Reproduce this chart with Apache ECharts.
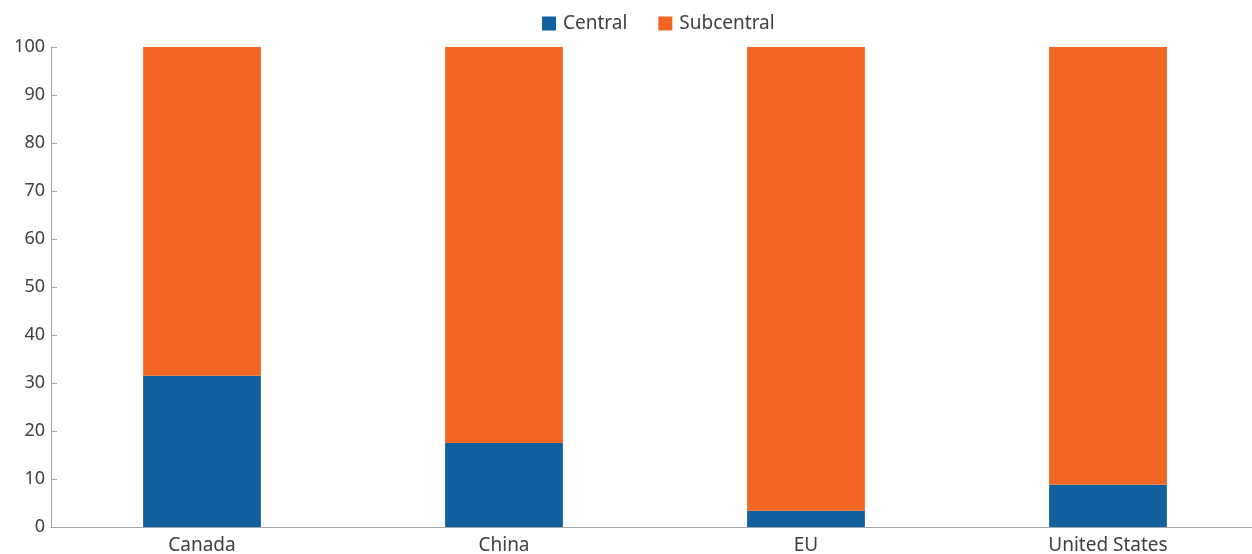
<!DOCTYPE html>
<html>
<head>
<meta charset="utf-8">
<script src="https://cdn.jsdelivr.net/npm/echarts@6/dist/echarts.min.js"></script>
<style>html,body{margin:0;padding:0;background:#fff;}#c{width:1252px;height:554px;}</style>
</head>
<body>
<div id="c"></div>
<script>
const categories = ['Canada', 'China', 'EU', 'United States'];
const central = [31.5, 17.5, 3.4, 8.8];
const subcentral = [68.5, 82.5, 96.6, 91.2];
const seriesNames = ['Central', 'Subcentral'];

const chart = echarts.init(document.getElementById('c'));
const font = '"Noto Sans", sans-serif';
chart.setOption({
  animation: false,
  legend: {
    top: 9, left: 537, itemWidth: 14, itemHeight: 14, itemGap: 31,
    icon: 'rect',
    textStyle: { fontSize: 19, color: '#404040', fontFamily: font, padding: [0, 0, 0, 2] },
    data: seriesNames
  },
  grid: { left: 51, width: 1208, top: 47, height: 480, containLabel: false, outerBoundsMode: 'none' },
  xAxis: {
    type: 'category', data: categories,
    axisLine: { lineStyle: { color: '#a6a6a6', width: 1 } },
    axisTick: { inside: true, length: 6, lineStyle: { color: '#a6a6a6' } },
    axisLabel: { fontSize: 19, color: '#404040', fontFamily: font, margin: 9 }
  },
  yAxis: {
    type: 'value', min: 0, max: 100, interval: 10,
    axisLine: { show: true, lineStyle: { color: '#a6a6a6', width: 1 } },
    axisTick: { show: true, inside: true, length: 6, lineStyle: { color: '#a6a6a6' } },
    splitLine: { show: false },
    axisLabel: { fontSize: 18, color: '#404040', fontFamily: font, margin: 6 }
  },
  series: [
    { name: seriesNames[0], type: 'bar', stack: 's', data: central, barWidth: '39%', itemStyle: { color: '#13609e' } },
    { name: seriesNames[1], type: 'bar', stack: 's', data: subcentral, barWidth: '39%', itemStyle: { color: '#f26522' } }
  ]
});
</script>
</body>
</html>
